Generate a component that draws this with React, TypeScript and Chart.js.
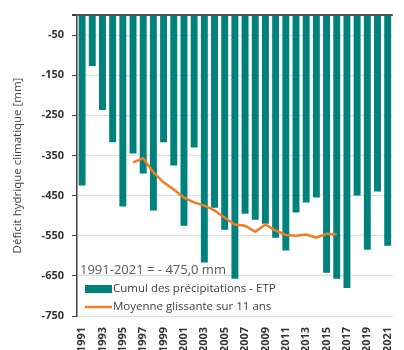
import React, { useEffect, useRef } from 'react';
import { Chart, registerables } from 'chart.js';

Chart.register(...registerables);

const years = [
  '1991', '1992', '1993', '1994', '1995', '1996', '1997', '1998', '1999', '2000',
  '2001', '2002', '2003', '2004', '2005', '2006', '2007', '2008', '2009', '2010',
  '2011', '2012', '2013', '2014', '2015', '2016', '2017', '2018', '2019', '2020', '2021',
];

const deficit = [
  -425, -127, -237, -317, -477, -345, -395, -487, -317, -375,
  -525, -330, -617, -480, -535, -657, -495, -510, -520, -555,
  -587, -492, -467, -455, -642, -657, -680, -450, -585, -440, -575,
];

const movingAvg = [
  null, null, null, null, null,
  -367, -357, -392, -417, -435, -455, -467, -475, -487, -505,
  -522, -525, -540, -522, -537, -548, -550, -547, -555, -545, -547,
  null, null, null, null, null,
];

const yTicks = [0, -50, -150, -250, -350, -450, -550, -650, -750];

const seriesNames = ['Cumul des précipitations - ETP', 'Moyenne glissante sur 11 ans'];
const yTitle = 'Déficit hydrique climatique [mm]';
const annotationText = '1991-2021 = - 475,0 mm';

const TEAL = '#00827C';
const ORANGE = '#F07D24';
const TEXT = '#333333';
const FONT = '"Open Sans", "Noto Sans", sans-serif';

const legendPlugin = {
  id: 'customLegend',
  afterDraw(chart: any) {
    const { ctx, chartArea } = chart;
    const x0 = chartArea.left;
    const b = chartArea.bottom;
    ctx.save();
    ctx.fillStyle = '#595959';
    ctx.font = `13px ${FONT}`;
    ctx.textBaseline = 'middle';
    ctx.textAlign = 'left';
    ctx.fillText(annotationText, x0 + 3, b - 46);

    ctx.fillStyle = TEAL;
    ctx.fillRect(x0 + 8, b - 31, 27, 8);
    ctx.fillStyle = '#404040';
    ctx.font = `11.5px ${FONT}`;
    ctx.fillText(seriesNames[0], x0 + 36, b - 27);

    ctx.strokeStyle = ORANGE;
    ctx.lineWidth = 2.5;
    ctx.beginPath();
    ctx.moveTo(x0 + 8, b - 9);
    ctx.lineTo(x0 + 35, b - 9);
    ctx.stroke();
    ctx.fillText(seriesNames[1], x0 + 36, b - 9);
    ctx.restore();
  },
};

export default function App() {
  const canvasRef = useRef<HTMLCanvasElement | null>(null);

  useEffect(() => {
    document.body.style.margin = '0';
    const canvas = canvasRef.current;
    if (!canvas) return;
    const chart = new Chart(canvas, {
      type: 'bar',
      data: {
        labels: years,
        datasets: [
          {
            type: 'line',
            label: seriesNames[1],
            data: movingAvg as any,
            borderColor: ORANGE,
            borderWidth: 2.5,
            pointRadius: 0,
            tension: 0,
            fill: false,
            order: 0,
          } as any,
          {
            type: 'bar',
            label: seriesNames[0],
            data: deficit,
            backgroundColor: TEAL,
            borderWidth: 0,
            barPercentage: 0.68,
            categoryPercentage: 1,
            order: 1,
          },
        ],
      },
      options: {
        responsive: false,
        animation: false,
        layout: { padding: { top: 15, right: 7, left: 0, bottom: 0 } },
        plugins: {
          legend: { display: false },
          tooltip: { enabled: false },
        },
        scales: {
          x: {
            grid: { display: false },
            border: { display: false },
            ticks: {
              autoSkip: false,
              minRotation: 90,
              maxRotation: 90,
              padding: 3,
              color: TEXT,
              font: { family: FONT, size: 11, weight: 'bold' },
              callback: (_v: any, i: number) => (i % 2 === 0 ? years[i] : ''),
            },
            afterFit: (scale: any) => {
              scale.height = 34;
            },
          },
          y: {
            min: -750,
            max: 0,
            afterBuildTicks: (scale: any) => {
              scale.ticks = yTicks.map((v) => ({ value: v }));
            },
            afterFit: (scale: any) => {
              scale.width = 77;
            },
            border: { display: true, color: '#404040', width: 1.5 },
            grid: {
              color: (c: any) => (c.tick && c.tick.value === 0 ? '#505050' : '#DCDCDC'),
              lineWidth: (c: any) => (c.tick && c.tick.value === 0 ? 2 : 1),
              tickColor: '#404040',
              tickLength: 5,
              drawTicks: true,
            },
            ticks: {
              padding: 8,
              color: TEXT,
              font: { family: FONT, size: 11, weight: 'bold' },
              callback: (v: any) => (v === 0 ? '' : String(v)),
            },
            title: {
              display: true,
              text: yTitle,
              color: '#404040',
              font: { family: FONT, size: 11.5 },
              padding: { top: 11, bottom: 0 },
            },
          },
        },
      },
      plugins: [legendPlugin],
    });
    return () => chart.destroy();
  }, []);

  return (
    <div style={{ width: 404, height: 350, background: '#fff' }}>
      <canvas ref={canvasRef} width={404} height={350} />
    </div>
  );
}
